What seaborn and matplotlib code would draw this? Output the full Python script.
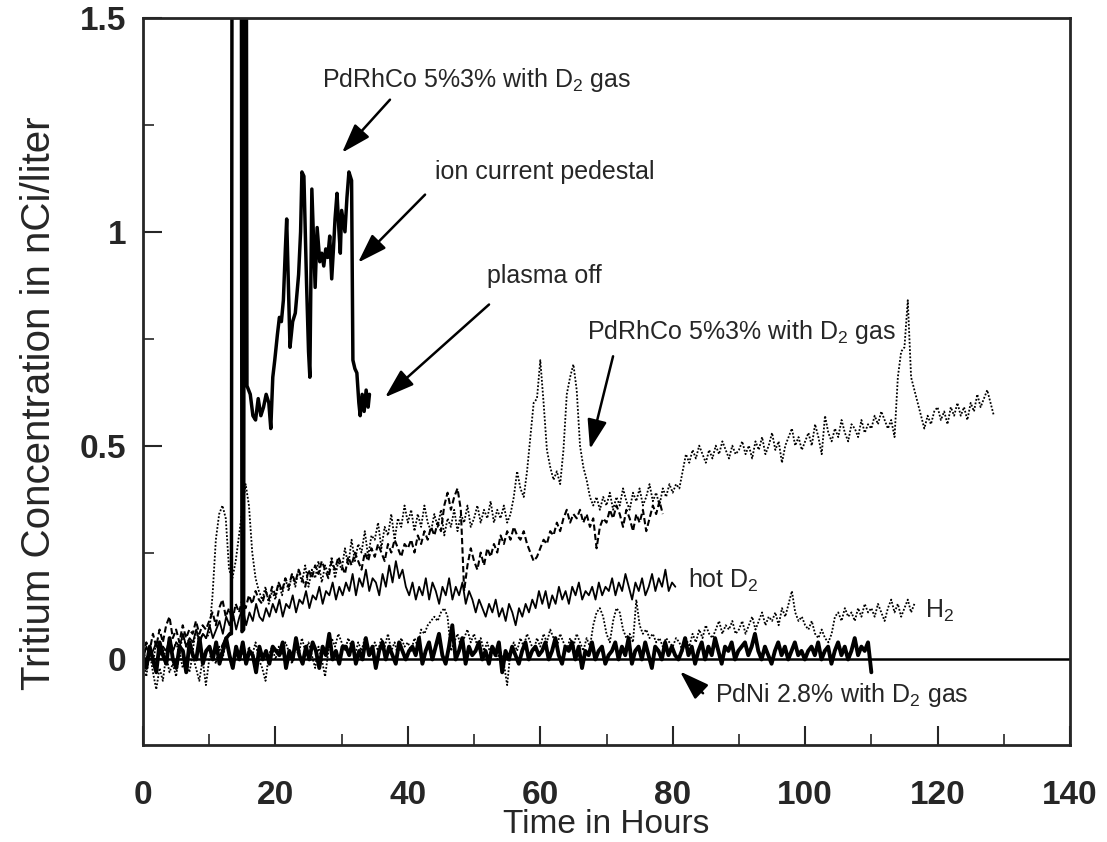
import numpy as np
import pandas as pd
import matplotlib
matplotlib.use("Agg")
import matplotlib.pyplot as plt
import seaborn as sns
from matplotlib.ticker import MultipleLocator

# ---------------- data ----------------
# PdNi 2.8% with D2 gas (thick, 0-110 h)
pdni_vals = [
    0.01, -0.02, 0.03, 0.00, -0.03, 0.04, 0.01, -0.01, 0.05, 0.00, -0.02, 0.03, 0.02, -0.03, 0.04, 0.01, 0.00, 0.05, -0.01, 0.02, 0.03,
    0.00, 0.04, -0.01, 0.02, 0.05, 0.01, -0.02, 0.03, 0.00, 0.04, -0.01, 0.02, 0.01, -0.03, 0.03, 0.00, 0.02, -0.01, 0.03, 0.02,
    0.01, 0.04, -0.02, 0.02, 0.00, 0.05, 0.01, -0.01, 0.03, 0.00, 0.04, 0.02, -0.02, 0.03, 0.01, 0.06, 0.00, 0.02, -0.01, 0.03,
    0.03, 0.01, 0.04, -0.01, 0.02, 0.00, 0.05, 0.01, 0.03, -0.02, 0.02, 0.04, 0.00, 0.03, 0.01, -0.01, 0.04, 0.02, 0.00, 0.02,
    0.03, 0.01, 0.05, -0.01, 0.02, 0.04, 0.00, 0.03, 0.06, 0.01, -0.01, 0.03, 0.08, 0.00, 0.02, 0.05, -0.01, 0.03, 0.01, 0.02,
    0.04, 0.00, 0.02, -0.01, 0.03, 0.01, 0.04, -0.03, 0.02, 0.00, 0.03, 0.01, -0.01, 0.02, 0.04, 0.00, 0.02, 0.03, 0.01, 0.02,
    0.04, 0.00, 0.02, 0.05, 0.01, -0.01, 0.03, 0.02, 0.04, 0.00, 0.03, -0.02, 0.02, 0.01, 0.04, 0.00, 0.02, 0.03, -0.01, 0.01,
    0.02, 0.04, 0.00, 0.03, 0.01, 0.05, -0.01, 0.02, 0.03, 0.00, 0.04, 0.01, -0.02, 0.03, 0.02, 0.00, 0.04, 0.01, 0.03, 0.01,
    0.00, 0.02, 0.05, 0.01, 0.03, -0.01, 0.02, 0.04, 0.00, 0.03, 0.01, 0.05, 0.02, -0.01, 0.03, 0.02, 0.04, 0.00, 0.02, 0.03,
    0.04, 0.01, 0.03, 0.06, 0.02, 0.00, 0.03, 0.01, -0.01, 0.02, 0.04, 0.01, 0.03, 0.00, 0.02, 0.04, 0.01, 0.02, 0.00, 0.02,
    0.03, 0.01, 0.04, 0.00, 0.02, 0.03, -0.01, 0.02, 0.04, 0.01, 0.03, 0.00, 0.02, 0.05, 0.01, 0.03, 0.02, 0.04, -0.03,
]
pdni_end = 110.0

# hot D2 (thin solid, 0-80.4 h)
hot_vals = [
    0.00, 0.03, 0.01, 0.02, 0.04, 0.01, 0.03, 0.02, 0.05, 0.02, 0.04, 0.03, 0.06, 0.03, 0.05, 0.04, 0.07, 0.04, 0.06, 0.05,
    0.08, 0.05, 0.07, 0.09, 0.06, 0.10, 0.08, 0.11, 0.07, 0.10, 0.12, 0.08, 0.11, 0.09, 0.13, 0.10, 0.09, 0.12, 0.10, 0.13,
    0.11, 0.14, 0.10, 0.13, 0.12, 0.15, 0.11, 0.14, 0.13, 0.16, 0.12, 0.15, 0.14, 0.17, 0.13, 0.16, 0.15, 0.18, 0.14, 0.17,
    0.15, 0.18, 0.16, 0.20, 0.15, 0.19, 0.17, 0.21, 0.16, 0.19, 0.18, 0.15, 0.20, 0.17, 0.22, 0.18, 0.23, 0.19, 0.21, 0.17,
    0.15, 0.18, 0.14, 0.17, 0.15, 0.19, 0.14, 0.18, 0.16, 0.13, 0.17, 0.15, 0.19, 0.14, 0.17, 0.15, 0.18, 0.13, 0.16, 0.14,
    0.11, 0.14, 0.12, 0.10, 0.13, 0.11, 0.14, 0.10, 0.12, 0.09, 0.13, 0.11, 0.08, 0.12, 0.10, 0.13, 0.11, 0.14, 0.12, 0.16,
    0.13, 0.16, 0.12, 0.15, 0.13, 0.17, 0.14, 0.16, 0.13, 0.17, 0.15, 0.18, 0.14, 0.16, 0.15, 0.17, 0.14, 0.18, 0.15, 0.17,
    0.16, 0.19, 0.15, 0.18, 0.16, 0.20, 0.17, 0.14, 0.18, 0.16, 0.19, 0.15, 0.17, 0.20, 0.16, 0.19, 0.17, 0.21, 0.16, 0.18, 0.17,
]
hot_end = 80.4

# PdRhCo 5%3% with D2 gas (dotted, 0.5 h sampling, 0-128.5 h)
gas_vals = [
    0.02, 0.00, 0.03, -0.01, 0.04, 0.01, 0.03, 0.00, 0.05, 0.02, 0.04, 0.01, 0.06, 0.03, 0.05, 0.02, 0.07, 0.04, 0.06, 0.05,
    0.06, 0.15, 0.28, 0.34, 0.36, 0.33, 0.21, 0.19, 0.23, 0.29, 0.35, 0.41, 0.36, 0.25, 0.19, 0.16, 0.14, 0.17, 0.13, 0.16,
    0.14, 0.18, 0.15, 0.19, 0.16, 0.20, 0.17, 0.21, 0.18, 0.22, 0.17, 0.21, 0.19, 0.23, 0.18, 0.22, 0.20, 0.24, 0.19, 0.23,
    0.21, 0.26, 0.22, 0.28, 0.23, 0.27, 0.25, 0.30, 0.24, 0.29, 0.28, 0.32, 0.26, 0.31, 0.29, 0.34, 0.28, 0.33, 0.31, 0.36,
    0.32, 0.35, 0.30, 0.34, 0.31, 0.36, 0.32, 0.30, 0.34, 0.31, 0.35, 0.29, 0.33, 0.31, 0.35, 0.30, 0.34, 0.32, 0.36, 0.31,
    0.33, 0.36, 0.32, 0.35, 0.33, 0.37, 0.32, 0.35, 0.33, 0.36, 0.32, 0.34, 0.38, 0.44, 0.40, 0.38, 0.44, 0.52, 0.60, 0.61,
    0.70, 0.60, 0.49, 0.45, 0.42, 0.44, 0.41, 0.49, 0.62, 0.66, 0.69, 0.63, 0.50, 0.45, 0.42, 0.38, 0.36, 0.38, 0.35, 0.38,
    0.36, 0.39, 0.35, 0.38, 0.36, 0.40, 0.37, 0.35, 0.39, 0.37, 0.40, 0.36, 0.38, 0.41, 0.37, 0.39, 0.36, 0.40, 0.38, 0.41,
    0.39, 0.41, 0.40, 0.44, 0.48, 0.46, 0.49, 0.47, 0.50, 0.48, 0.46, 0.49, 0.47, 0.50, 0.48, 0.51, 0.49, 0.47, 0.50, 0.48,
    0.49, 0.51, 0.48, 0.50, 0.47, 0.51, 0.49, 0.52, 0.48, 0.50, 0.53, 0.49, 0.51, 0.46, 0.50, 0.52, 0.54, 0.50, 0.52, 0.49,
    0.51, 0.53, 0.50, 0.55, 0.52, 0.48, 0.57, 0.53, 0.51, 0.54, 0.52, 0.56, 0.53, 0.51, 0.55, 0.54, 0.52, 0.56, 0.53, 0.55,
    0.54, 0.57, 0.55, 0.58, 0.56, 0.54, 0.56, 0.52, 0.66, 0.72, 0.73, 0.84, 0.66, 0.63, 0.60, 0.57, 0.54, 0.57, 0.55, 0.58,
    0.59, 0.56, 0.58, 0.55, 0.59, 0.57, 0.60, 0.57, 0.59, 0.56, 0.60, 0.58, 0.62, 0.59, 0.61, 0.63, 0.60, 0.57,
]

# second gas run (dashed, 0.5 h sampling, 0-78.5 h)
dash_vals = [
    0.01, 0.04, 0.02, 0.06, 0.03, 0.07, 0.04, 0.08, 0.10, 0.05, 0.07, 0.04, 0.08, 0.05, 0.07, 0.06, 0.09, 0.06, 0.08, 0.07,
    0.09, 0.11, 0.08, 0.12, 0.14, 0.10, 0.12, 0.09, 0.13, 0.11, 0.14, 0.12, 0.15, 0.13, 0.16, 0.14, 0.13, 0.16, 0.14, 0.17,
    0.15, 0.18, 0.16, 0.19, 0.17, 0.20, 0.18, 0.21, 0.19, 0.17, 0.21, 0.19, 0.22, 0.20, 0.23, 0.21, 0.19, 0.23, 0.21, 0.24,
    0.22, 0.20, 0.24, 0.22, 0.25, 0.23, 0.21, 0.25, 0.23, 0.26, 0.24, 0.27, 0.25, 0.23, 0.27, 0.25, 0.28, 0.26, 0.24, 0.27,
    0.26, 0.28, 0.25, 0.29, 0.27, 0.30, 0.28, 0.31, 0.29, 0.32, 0.30, 0.36, 0.39, 0.35, 0.38, 0.40, 0.35, 0.16, 0.22, 0.26,
    0.23, 0.21, 0.25, 0.22, 0.26, 0.24, 0.27, 0.25, 0.29, 0.27, 0.30, 0.28, 0.31, 0.29, 0.28, 0.30, 0.27, 0.25, 0.23, 0.24,
    0.26, 0.28, 0.27, 0.30, 0.29, 0.32, 0.30, 0.33, 0.35, 0.32, 0.34, 0.33, 0.35, 0.32, 0.34, 0.31, 0.33, 0.26, 0.31, 0.33,
    0.32, 0.35, 0.33, 0.36, 0.34, 0.31, 0.35, 0.33, 0.30, 0.34, 0.32, 0.35, 0.30, 0.33, 0.36, 0.34, 0.37, 0.34,
]

# H2 (dotted, 0.5 h sampling, 0-116.5 h)
h2_vals = [
    0.00, -0.04, 0.02, -0.03, -0.07, -0.02, -0.05, 0.01, -0.03, -0.01, -0.04, 0.02, -0.02, 0.00, -0.03, 0.01, -0.02, -0.05, 0.00, -0.06,
    0.00, 0.02, -0.01, 0.03, 0.00, 0.04, 0.01, -0.02, 0.03, 0.00, 0.02, -0.01, 0.03, 0.01, 0.04, 0.00, -0.02, -0.05, 0.01, 0.03,
    0.00, 0.03, 0.01, 0.04, 0.02, -0.01, 0.03, 0.01, 0.05, 0.02, 0.04, 0.01, -0.02, 0.03, 0.00, -0.04, 0.02, 0.05, 0.03, 0.06,
    0.04, 0.02, 0.05, 0.03, 0.01, 0.04, 0.02, 0.05, 0.03, 0.01, 0.04, 0.02, 0.05, 0.03, 0.06, 0.02, 0.04, 0.01, 0.05, 0.03,
    0.04, 0.02, 0.05, 0.03, 0.07, 0.06, 0.08, 0.09, 0.10, 0.09, 0.11, 0.12, 0.10, 0.02, 0.04, 0.06, 0.03, 0.05, 0.07, 0.04,
    0.06, 0.03, 0.05, 0.02, 0.04, 0.01, 0.03, 0.00, 0.02, -0.01, -0.06, 0.02, 0.04, 0.02, 0.05, 0.03, 0.06, 0.04, 0.02, 0.05,
    0.03, 0.06, 0.04, 0.07, 0.05, 0.03, 0.06, 0.04, 0.02, 0.05, 0.03, 0.06, 0.04, 0.02, 0.05, 0.03, 0.08, 0.11, 0.12, 0.10,
    0.06, 0.04, 0.09, 0.12, 0.11, 0.07, 0.05, 0.06, 0.04, 0.14, 0.08, 0.06, 0.07, 0.05, 0.06, 0.04, 0.05, 0.03, 0.05, 0.04,
    0.03, 0.05, 0.04, 0.02, 0.05, 0.03, 0.06, 0.04, 0.07, 0.05, 0.08, 0.06, 0.05, 0.07, 0.09, 0.06, 0.08, 0.07, 0.09, 0.06,
    0.07, 0.09, 0.06, 0.08, 0.10, 0.07, 0.09, 0.11, 0.08, 0.10, 0.09, 0.11, 0.08, 0.12, 0.10, 0.13, 0.16, 0.11, 0.09, 0.10,
    0.08, 0.07, 0.09, 0.06, 0.05, 0.07, 0.05, 0.04, 0.06, 0.10, 0.11, 0.09, 0.12, 0.10, 0.11, 0.09, 0.12, 0.10, 0.13, 0.11,
    0.12, 0.10, 0.13, 0.11, 0.09, 0.12, 0.14, 0.11, 0.13, 0.10, 0.12, 0.14, 0.11, 0.13,
]
sample_step = 0.5

# PdRhCo plasma run (thick, irregular sampling; spikes go off scale)
plasma_t = [12.0, 12.6, 13.1, 13.35, 13.45, 14.85, 14.95, 15.2, 15.3, 15.6, 15.7, 16.2, 16.6, 17.0, 17.4, 17.8,
            18.2, 18.6, 19.0, 19.3, 19.6, 19.9, 20.3, 20.6, 20.9, 21.2, 21.5, 21.7, 22.0, 22.2, 22.6, 23.0,
            23.5, 23.8, 24.0, 24.3, 24.7, 25.0, 25.2, 25.5, 26.0, 26.3, 26.7, 27.0, 27.3, 27.6, 27.9, 28.2,
            28.5, 28.8, 29.0, 29.3, 29.6, 29.8, 30.0, 30.5, 30.8, 31.1, 31.5, 31.7, 32.0, 32.3, 32.6, 32.8,
            33.1, 33.4, 33.7, 34.0, 34.2]
plasma_v = [0.03, 0.05, 0.06, 0.06, 1.80, 1.80, 0.065, 0.07, 1.80, 1.80, 0.64, 0.62, 0.57, 0.56, 0.61, 0.57,
            0.59, 0.62, 0.60, 0.54, 0.66, 0.70, 0.76, 0.80, 0.79, 0.84, 0.96, 1.03, 0.85, 0.73, 0.79, 0.81,
            0.90, 1.00, 1.14, 1.13, 0.88, 0.72, 0.66, 1.10, 0.87, 1.01, 0.93, 0.95, 0.92, 0.96, 0.94, 0.99,
            0.89, 0.97, 1.03, 1.09, 1.00, 0.95, 1.05, 1.00, 1.08, 1.14, 1.12, 0.70, 0.68, 0.67, 0.60, 0.57,
            0.62, 0.58, 0.63, 0.59, 0.62]

x_ticks = [0, 20, 40, 60, 80, 100, 120, 140]
y_ticks = [0, 0.5, 1, 1.5]
y_tick_labels = ["0", "0.5", "1", "1.5"]

# ---------------- figure ----------------
sns.set_style("ticks")
plt.rcParams["font.family"] = ["Liberation Sans", "DejaVu Sans"]
plt.rcParams["mathtext.fontset"] = "custom"
plt.rcParams["mathtext.rm"] = "Liberation Sans"
plt.rcParams["mathtext.it"] = "Liberation Sans:italic"
plt.rcParams["mathtext.bf"] = "Liberation Sans:bold"
plt.rcParams["mathtext.default"] = "regular"

fig = plt.figure(figsize=(11.07, 8.42), dpi=100)
ax = fig.add_axes([143 / 1107, 1 - 745 / 842, (1070 - 143) / 1107, (745 - 18) / 842])

def uniform_df(vals, end=None):
    n = len(vals)
    t = np.linspace(0, end, n) if end is not None else np.arange(n) * sample_step
    return pd.DataFrame({"t": t, "v": vals})

common = dict(x="t", y="v", ax=ax, color="black", estimator=None, sort=False, errorbar=None)

sns.lineplot(data=uniform_df(h2_vals), linewidth=1.3, linestyle=(0, (1, 1)), **common)
sns.lineplot(data=uniform_df(dash_vals), linewidth=1.5, linestyle=(0, (3, 1.5)), **common)
sns.lineplot(data=uniform_df(gas_vals), linewidth=1.3, linestyle=(0, (1, 1)), **common)
sns.lineplot(data=uniform_df(hot_vals, hot_end), linewidth=1.3, **common)
sns.lineplot(data=uniform_df(pdni_vals, pdni_end), linewidth=2.8, **common)
sns.lineplot(data=pd.DataFrame({"t": plasma_t, "v": plasma_v}), linewidth=2.5, **common)

ax.axhline(0, color="black", linewidth=1.8)

ax.set_xlim(0, 140)
ax.set_ylim(-0.2, 1.5)
ax.set_xticks(x_ticks)
ax.xaxis.set_minor_locator(MultipleLocator(10))
ax.set_yticks(y_ticks)
ax.set_yticklabels(y_tick_labels)
ax.yaxis.set_minor_locator(MultipleLocator(0.25))
ax.tick_params(axis="both", which="major", direction="in", length=14, width=1.5,
               labelsize=24, top=False, right=False)
ax.tick_params(axis="both", which="minor", direction="in", length=8, width=1.2, top=False, right=False)
ax.tick_params(axis="x", which="major", pad=25)
ax.tick_params(axis="y", which="major", pad=12)
for lab in ax.get_xticklabels() + ax.get_yticklabels():
    lab.set_fontweight("bold")
for s in ax.spines.values():
    s.set_linewidth(2)
    s.set_visible(True)

ax.set_xlabel("Time in Hours", fontsize=24, va="baseline")
ax.xaxis.set_label_coords(0.5, (745 - 833) / 727)
ax.set_ylabel("Tritium Concentration in nCi/liter", fontsize=29, va="center")
ax.yaxis.set_label_coords(-0.112, 0.47)

fs = 18
ax.text(27.0, 1.355, "PdRhCo 5%3% with D$_2$ gas", fontsize=fs, va="center", ha="left")
ax.text(44.1, 1.141, "ion current pedestal", fontsize=fs, va="center", ha="left")
ax.text(51.96, 0.896, "plasma off", fontsize=fs, va="center", ha="left")
ax.text(67.06, 0.765, "PdRhCo 5%3% with D$_2$ gas", fontsize=fs, va="center", ha="left")
ax.text(82.3, 0.184, "hot D$_2$", fontsize=fs, va="center", ha="left")
ax.text(118.1, 0.114, "H$_2$", fontsize=fs, va="center", ha="left")
ax.text(86.4, -0.084, "PdNi 2.8% with D$_2$ gas", fontsize=fs, va="center", ha="left")

arrow_kw = dict(arrowstyle="-|>,head_length=0.9,head_width=0.3", color="black", lw=1.8,
                shrinkA=0, shrinkB=0, mutation_scale=20)
arrows = [((37.3, 1.309), (30.06, 1.185)),
          ((42.6, 1.087), (32.47, 0.928)),
          ((52.26, 0.830), (36.55, 0.613)),
          ((70.99, 0.709), (67.51, 0.492)),
          ((84.58, -0.079), (81.1, -0.028))]
for tail, head in arrows:
    ax.annotate("", xy=head, xytext=tail, arrowprops=arrow_kw)

fig.savefig("out.png", dpi=100)
